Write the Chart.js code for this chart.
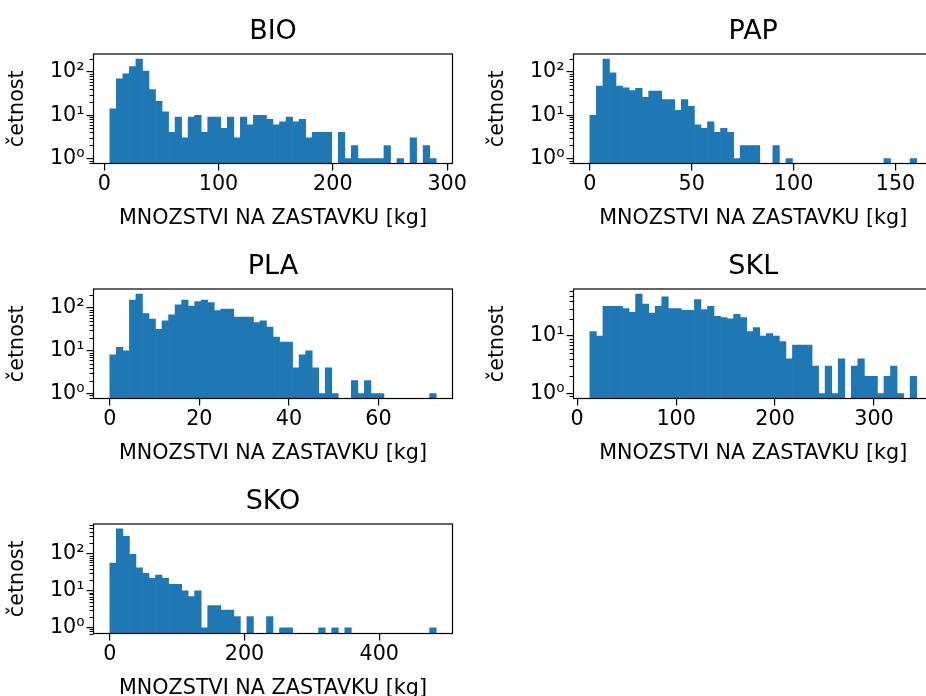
<!DOCTYPE html>
<html>
<head>
<meta charset="utf-8">
<script src="https://cdn.jsdelivr.net/npm/chart.js@4.4.1/dist/chart.umd.min.js"></script>
<style>
html, body { margin: 0; padding: 0; overflow: hidden; background: #fff; width: 926px; height: 696px; }
canvas { position: absolute; }
</style>
</head>
<body>
<canvas id="bio" width="480" height="235" style="left:0;top:0"></canvas>
<canvas id="pap" width="463" height="235" style="left:480px;top:0"></canvas>
<canvas id="pla" width="480" height="235" style="left:0;top:235px"></canvas>
<canvas id="skl" width="463" height="235" style="left:480px;top:235px"></canvas>
<canvas id="sko" width="480" height="235" style="left:0;top:470px"></canvas>
<script>
// pocty v 50 binech, rozsah hodnot [min, max] a popisky osy x
var bioCounts = [14, 69, 90, 133, 199, 104, 39, 21, 12, 4, 9, 3, 9, 10, 4, 9, 9, 5, 9, 3,
    9, 6, 10, 10, 8, 6, 7, 9, 7, 8, 3, 4, 4, 4, 0, 4, 1, 2, 1, 1, 1, 1, 2, 0, 1, 0, 3, 0, 2, 1];
var bioRange = [4.9, 290.4];
var bioTicks = [0, 100, 200, 300];

var papCounts = [10, 47, 199, 95, 47, 43, 37, 42, 26, 36, 36, 23, 23, 13, 23, 16, 6, 5, 7, 4,
    5, 4, 1, 2, 2, 2, 0, 0, 2, 0, 1, 0, 0, 0, 0, 0, 0, 0, 0, 0, 0, 0, 0, 0, 0, 1, 0, 0, 0, 1];
var papRange = [0, 160.4];
var papTicks = [0, 50, 100, 150];

var plaCounts = [8, 12, 10, 153, 214, 74, 55, 32, 50, 70, 119, 153, 111, 143, 153, 135, 88, 95, 95, 62,
    62, 62, 46, 50, 36, 21, 16, 16, 4, 8, 10, 4, 1, 4, 1, 0, 0, 2, 1, 2, 1, 1, 0, 0, 0, 0, 0, 0, 0, 1];
var plaRange = [0, 72.9];
var plaTicks = [0, 20, 40, 60];

var sklCounts = [12, 10, 33, 33, 33, 30, 26, 54, 36, 25, 33, 48, 30, 30, 28, 28, 43, 29, 33, 22,
    21, 20, 24, 21, 12, 14, 10, 11, 10, 8, 4, 7, 7, 7, 3, 1, 3, 1, 4, 0, 3, 4, 2, 2, 1, 2, 3, 1, 0, 2];
var sklRange = [12.8, 343.1];
var sklTicks = [0, 100, 200, 300];

var skoCounts = [57, 477, 303, 98, 42, 30, 22, 27, 22, 15, 15, 10, 7, 10, 1, 4, 4, 3, 3, 2,
    0, 2, 0, 0, 2, 0, 1, 1, 0, 0, 0, 0, 1, 0, 1, 0, 1, 0, 0, 0, 0, 0, 0, 0, 0, 0, 0, 0, 0, 1];
var skoRange = [0, 484.6];
var skoTicks = [0, 200, 400];

var yTicks = [1, 10, 100];
var yLabels = ['10⁰', '10¹', '10²'];

Chart.defaults.font.family = 'DejaVu Sans';
Chart.defaults.font.size = 20.7;
Chart.defaults.color = '#000';

// ramecek kolem grafu a vedlejsi znacky na log. ose
var ramecek = {
    id: 'ramecek',
    afterDraw: function(chart) {
        var a = chart.chartArea;
        var ctx = chart.ctx;
        var y = chart.scales.y;
        ctx.save();
        ctx.strokeStyle = '#000';
        ctx.lineWidth = 1;
        for (var d = -1; d < 4; d++) {
            for (var k = 2; k < 10; k++) {
                var v = k * Math.pow(10, d);
                if (v < y.min || v > y.max) continue;
                var py = Math.round(y.getPixelForValue(v)) + 0.5;
                ctx.beginPath();
                ctx.moveTo(a.left - 4, py);
                ctx.lineTo(a.left, py);
                ctx.stroke();
            }
        }
        ctx.lineWidth = 1.2;
        ctx.strokeRect(a.left, a.top, a.right - a.left, a.bottom - a.top);
        ctx.restore();
    }
};

function histogram(id, nazev, counts, range, xTicks, vpravo) {
    var n = counts.length;
    var w = (range[1] - range[0]) / n;
    var body = [];
    counts.forEach(function(c, i) {
        if (c > 0) body.push({x: range[0] + w * (i + 0.5), y: c});
    });
    var okraj = (range[1] - range[0]) * 0.05;
    var top = Math.log10(Math.max.apply(null, counts));

    new Chart(document.getElementById(id), {
        type: 'bar',
        data: {
            datasets: [{
                data: body,
                backgroundColor: '#1f77b4',
                borderWidth: 0,
                barPercentage: 1,
                categoryPercentage: 1
            }]
        },
        options: {
            responsive: false,
            animation: false,
            layout: { padding: { left: 0, right: vpravo, top: 0, bottom: 0 } },
            plugins: {
                legend: { display: false },
                tooltip: { enabled: false },
                title: {
                    display: true,
                    fullSize: false,
                    text: nazev,
                    font: { size: 27, weight: 'normal' },
                    color: '#000',
                    padding: { top: 15.3, bottom: 6.3 }
                }
            },
            scales: {
                x: {
                    type: 'linear',
                    offset: false,
                    min: range[0] - okraj,
                    max: range[1] + okraj,
                    grid: { drawOnChartArea: false, offset: false, tickLength: 7, color: '#000', lineWidth: 1.2 },
                    border: { display: false },
                    ticks: { padding: 2, maxRotation: 0, callback: function(v) { return String(v); } },
                    title: { display: true, text: 'MNOZSTVI NA ZASTAVKU [kg]', padding: { top: 0, bottom: 3.8 } },
                    afterBuildTicks: function(s) {
                        s.ticks = xTicks.map(function(v) { return {value: v}; });
                    },
                    afterFit: function(s) {
                        s.height = 71.5;
                        s.paddingLeft = 0;
                        s.paddingRight = 0;
                    }
                },
                y: {
                    type: 'logarithmic',
                    beginAtZero: false,
                    min: Math.pow(10, -0.05 * top),
                    max: Math.pow(10, 1.05 * top),
                    grid: { drawOnChartArea: false, tickLength: 7, color: '#000', lineWidth: 1.2 },
                    border: { display: false },
                    ticks: {
                        padding: 2,
                        callback: function(v) {
                            var i = yTicks.indexOf(v);
                            return i >= 0 ? yLabels[i] : '';
                        }
                    },
                    title: { display: true, text: 'četnost', padding: { top: 5.6, bottom: 0 } },
                    afterBuildTicks: function(s) {
                        s.ticks = yTicks.filter(function(v) {
                            return v >= s.min && v <= s.max;
                        }).map(function(v) { return {value: v}; });
                    },
                    afterFit: function(s) {
                        s.width = 93.5;
                        s.paddingTop = 0;
                        s.paddingBottom = 0;
                    }
                }
            }
        },
        plugins: [ramecek]
    });
}

histogram('bio', 'BIO', bioCounts, bioRange, bioTicks, 27.5);
histogram('pap', 'PAP', papCounts, papRange, papTicks, 10);
histogram('pla', 'PLA', plaCounts, plaRange, plaTicks, 27.5);
histogram('skl', 'SKL', sklCounts, sklRange, sklTicks, 10);
histogram('sko', 'SKO', skoCounts, skoRange, skoTicks, 27.5);
</script>
</body>
</html>
